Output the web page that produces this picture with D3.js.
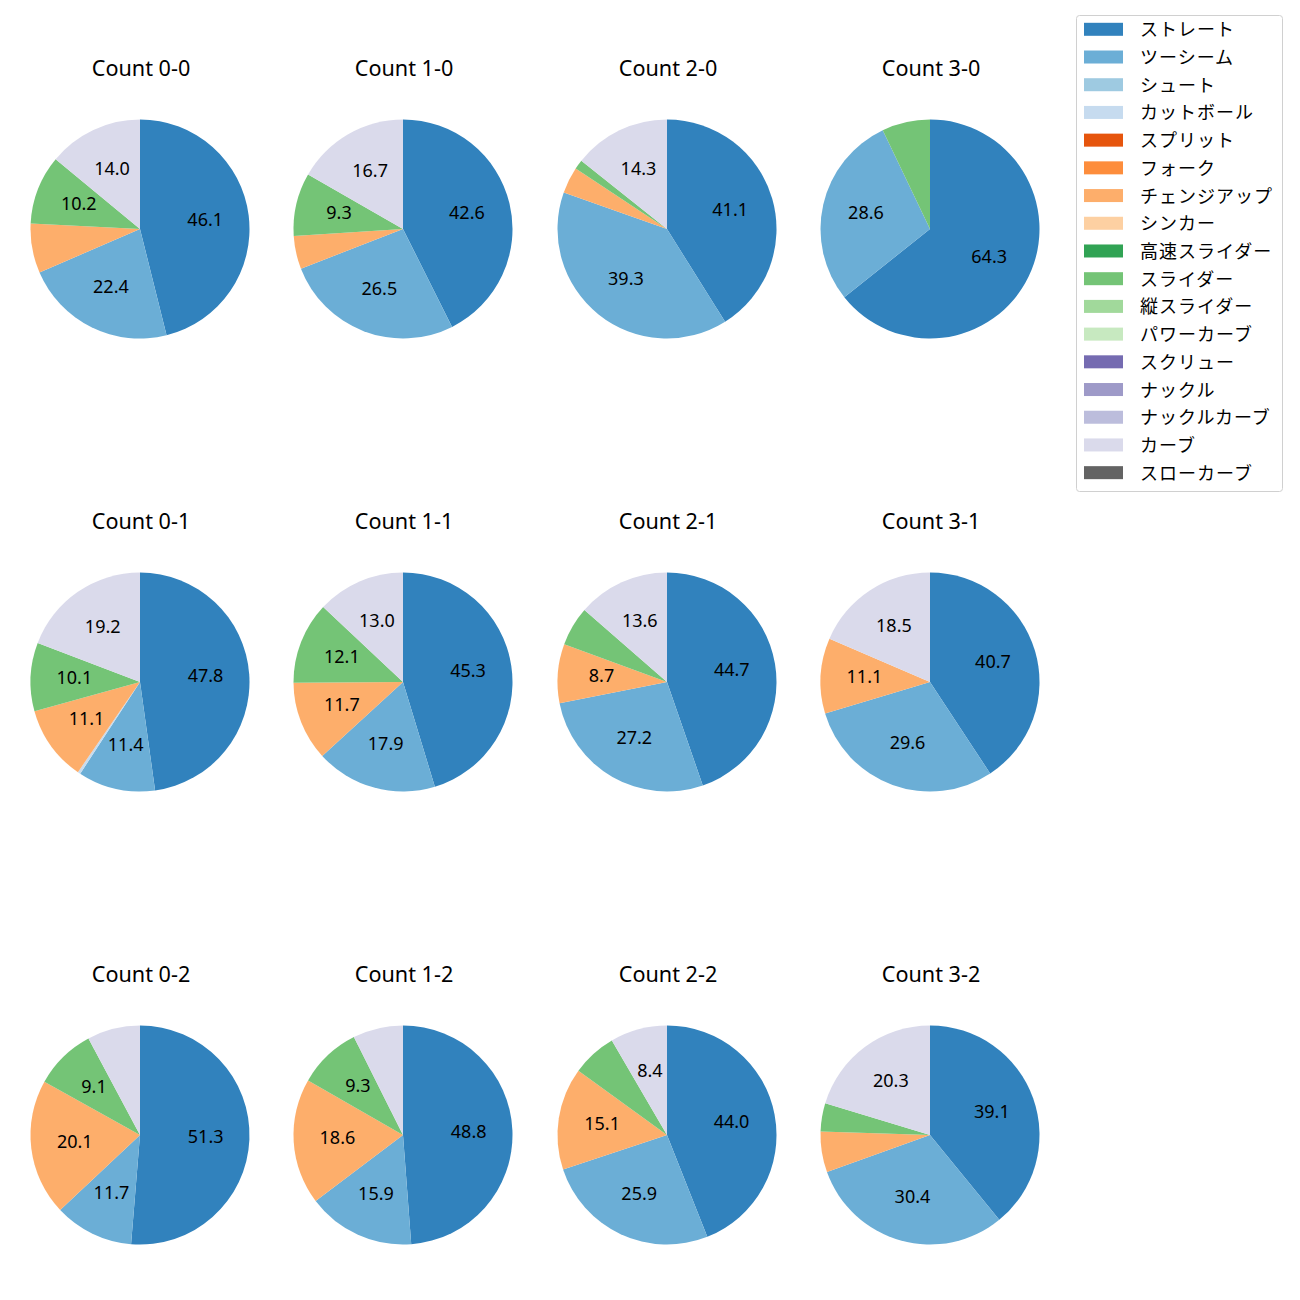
<!DOCTYPE html>
<html>
<head>
<meta charset="utf-8">
<script src="https://cdn.jsdelivr.net/npm/d3@7"></script>
<style>
  html, body { margin: 0; padding: 0; background: #fff; }
  svg { display: block; font-family: "Noto Sans", "Noto Sans CJK JP", sans-serif; }
</style>
</head>
<body>
<svg id="chart" width="1300" height="1300"></svg>
<script>
// ---- data ----
const pitchTypes = ["ストレート","ツーシーム","シュート","カットボール","スプリット","フォーク","チェンジアップ","シンカー","高速スライダー","スライダー","縦スライダー","パワーカーブ","スクリュー","ナックル","ナックルカーブ","カーブ","スローカーブ"];
const pitchColors = ["#3182bd","#6baed6","#9ecae1","#c6dbef","#e6550d","#fd8d3c","#fdae6b","#fdd0a2","#31a354","#74c476","#a1d99b","#c7e9c0","#756bb1","#9e9ac8","#bcbddc","#dadaeb","#636363"];
const counts = ["0-0","1-0","2-0","3-0","0-1","1-1","2-1","3-1","0-2","1-2","2-2","3-2"];
// series values (percent) per count, in the order of `counts`
const straight   = [46.1, 42.6, 41.1, 64.3, 47.8, 45.3, 44.7, 40.7, 51.3, 48.8, 44.0, 39.1];
const twoSeam    = [22.4, 26.5, 39.3, 28.6, 11.4, 17.9, 27.2, 29.6, 11.7, 15.9, 25.9, 30.4];
const cutter     = [0, 0, 0, 0, 0.4, 0, 0, 0, 0, 0, 0, 0];
const changeup   = [7.3, 4.9, 3.9, 0, 11.1, 11.7, 8.7, 11.1, 20.1, 18.6, 15.1, 6.0];
const slider     = [10.2, 9.3, 1.4, 7.1, 10.1, 12.1, 5.8, 0, 9.1, 9.3, 6.6, 4.2];
const curve      = [14.0, 16.7, 14.3, 0, 19.2, 13.0, 13.6, 18.5, 7.8, 7.4, 8.4, 20.3];
const seriesByType = {
  "ストレート": straight, "ツーシーム": twoSeam, "カットボール": cutter,
  "チェンジアップ": changeup, "スライダー": slider, "カーブ": curve
};

// ---- layout ----
const svg = d3.select("#chart");
const colX = [140, 403, 667, 930];
const rowY = [229, 682, 1135];
const radius = 109.5;
const color = d3.scaleOrdinal().domain(pitchTypes).range(pitchColors);

const pie = d3.pie().sort(null).value(d => d.value).startAngle(0).endAngle(2 * Math.PI);
const arc = d3.arc().innerRadius(0).outerRadius(radius);
const labelArc = d3.arc().innerRadius(radius * 0.6).outerRadius(radius * 0.6);

counts.forEach((c, i) => {
  const cx = colX[i % 4], cy = rowY[Math.floor(i / 4)];
  const data = pitchTypes
    .map(t => ({ type: t, value: seriesByType[t] ? seriesByType[t][i] : 0 }))
    .filter(d => d.value > 0);
  const total = d3.sum(data, d => d.value);
  const g = svg.append("g").attr("transform", `translate(${cx},${cy})`);
  const arcs = pie(data);
  g.selectAll("path").data(arcs).join("path")
    .attr("d", arc)
    .attr("fill", d => color(d.data.type));
  g.selectAll("text.pct").data(arcs.filter(d => d.data.value / total * 100 >= 8)).join("text")
    .attr("class", "pct")
    .attr("transform", d => { const p = labelArc.centroid(d); return `translate(${p[0]},${p[1] - 2})`; })
    .attr("text-anchor", "middle")
    .attr("dominant-baseline", "central")
    .attr("font-size", 18)
    .attr("fill", "#000")
    .text(d => (d.data.value / total * 100).toFixed(1));
  svg.append("text")
    .attr("x", cx + 1).attr("y", cy - 162)
    .attr("text-anchor", "middle")
    .attr("dominant-baseline", "central")
    .attr("font-size", 21.6)
    .attr("fill", "#000")
    .text("Count " + c);
});

// ---- legend ----
const lg = svg.append("g");
lg.append("rect")
  .attr("x", 1076.5).attr("y", 15.5).attr("width", 206).attr("height", 476)
  .attr("rx", 3).attr("fill", "#fff").attr("stroke", "#d0d0d0");
pitchTypes.forEach((t, k) => {
  const y = 29.3 + k * 27.71;
  lg.append("rect")
    .attr("x", 1084).attr("y", y - 6.5).attr("width", 39).attr("height", 13)
    .attr("fill", color(t));
  lg.append("text")
    .attr("x", 1140).attr("y", y)
    .attr("dominant-baseline", "central")
    .attr("font-size", 18)
    .attr("letter-spacing", 1)
    .attr("fill", "#000")
    .text(t);
});
</script>
</body>
</html>
